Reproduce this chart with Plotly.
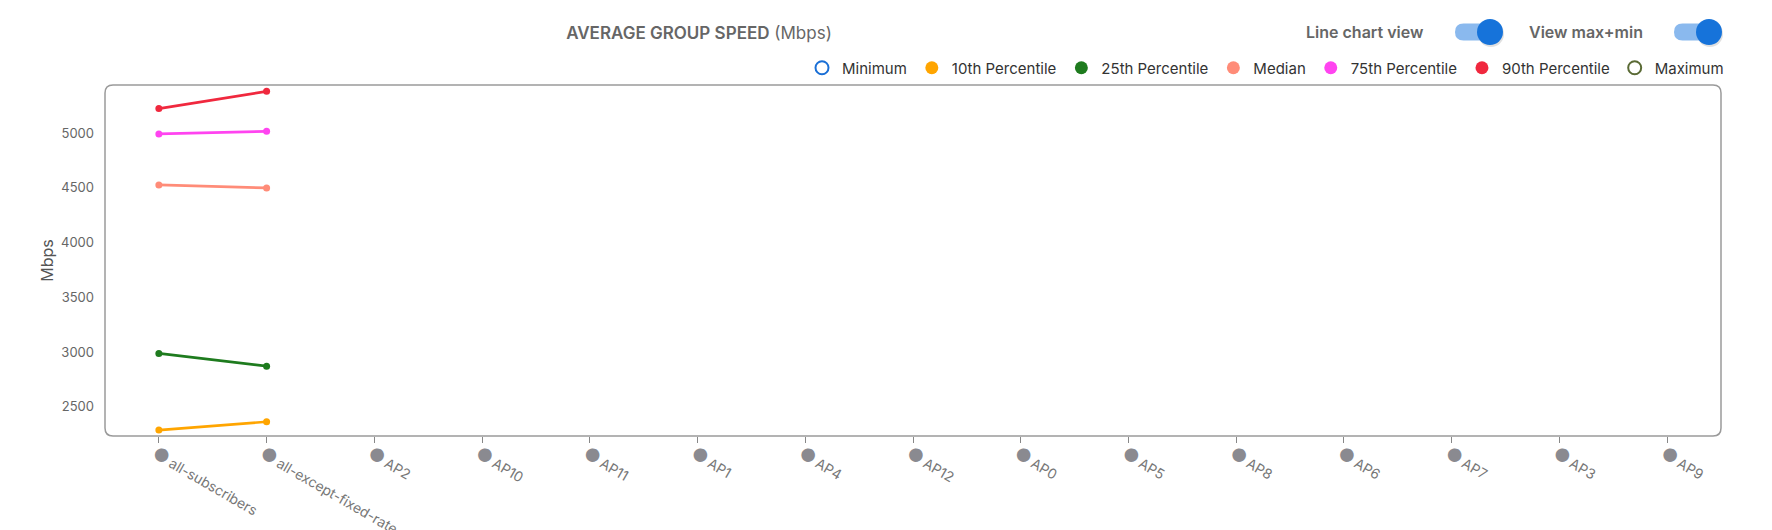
import plotly.graph_objects as go

categories = ["all-subscribers", "all-except-fixed-rate", "AP2", "AP10", "AP11", "AP1", "AP4",
              "AP12", "AP0", "AP5", "AP8", "AP6", "AP7", "AP3", "AP9"]

minimum = [None, None]
p10 = [2287, 2363]
p25 = [2987, 2871]
median = [4526, 4498]
p75 = [4991, 5015]
p90 = [5223, 5380]
maximum = [None, None]

y_ticks = [2500, 3000, 3500, 4000, 4500, 5000]

series = [
    ("Minimum", minimum, "#1a6fd6", True),
    ("10th Percentile", p10, "#ffa500", False),
    ("25th Percentile", p25, "#1e7b1e", False),
    ("Median", median, "#ff8c78", False),
    ("75th Percentile", p75, "#ff44f0", False),
    ("90th Percentile", p90, "#f0283e", False),
    ("Maximum", maximum, "#5a6a35", True),
]

W, H = 1772, 530
L, R, T, B = 105, 51, 85, 94
PW, PH = W - L - R, H - T - B

def px(x):
    return (x - L) / PW

def py(y):
    return (H - B - y) / PH

fig = go.Figure()
for name, vals, color, hollow in series:
    fig.add_trace(go.Scatter(
        x=categories[:len(vals)], y=vals, name=name, mode="lines+markers",
        legendgroup=name, showlegend=False,
        line=dict(color=color, width=2.7),
        marker=dict(size=7, color="white" if hollow else color,
                    line=dict(color=color, width=2 if hollow else 0),
                    symbol="circle"),
    ))
# legend entries (circle symbols only)
for name, vals, color, hollow in series:
    fig.add_trace(go.Scatter(
        x=[categories[0]], y=[None], name=name, mode="markers",
        legendgroup=name, showlegend=True, hoverinfo="skip",
        marker=dict(size=13, color="white" if hollow else color,
                    line=dict(color=color, width=2 if hollow else 0),
                    symbol="circle"),
    ))

ticktext = ["<span style='color:#8a8a90;font-size:18px'>●</span>\u2009" + c for c in categories]

# rounded plot frame
r = 8
rx, ry = r / PW, r / PH
frame = (f"M {rx},0 L {1-rx},0 Q 1,0 1,{ry} L 1,{1-ry} Q 1,1 {1-rx},1 "
         f"L {rx},1 Q 0,1 0,{1-ry} L 0,{ry} Q 0,0 {rx},0 Z")
shapes = [dict(type="path", path=frame, xref="paper", yref="paper",
               line=dict(color="#9a9a9a", width=1.5), layer="above")]

# toggle switches (UI decoration)
def toggle(x0, x1, kx, cy):
    th = 17
    tr = th / 2
    path = (f"M {px(x0+tr)},{py(cy-tr)} L {px(x1-tr)},{py(cy-tr)} "
            f"Q {px(x1)},{py(cy-tr)} {px(x1)},{py(cy)} Q {px(x1)},{py(cy+tr)} {px(x1-tr)},{py(cy+tr)} "
            f"L {px(x0+tr)},{py(cy+tr)} Q {px(x0)},{py(cy+tr)} {px(x0)},{py(cy)} "
            f"Q {px(x0)},{py(cy-tr)} {px(x0+tr)},{py(cy-tr)} Z")
    kr = 13
    return [
        dict(type="path", path=path, xref="paper", yref="paper",
             fillcolor="#8ab9ee", line=dict(width=0)),
        dict(type="circle", xref="paper", yref="paper",
             x0=px(kx - kr + 1), x1=px(kx + kr + 1), y0=py(cy + kr + 2), y1=py(cy - kr + 2),
             fillcolor="rgba(0,0,0,0.12)", line=dict(width=0)),
        dict(type="circle", xref="paper", yref="paper",
             x0=px(kx - kr), x1=px(kx + kr), y0=py(cy + kr), y1=py(cy - kr),
             fillcolor="#1673da", line=dict(width=0)),
    ]

shapes += toggle(1455, 1498, 1490, 32)
shapes += toggle(1674, 1714, 1709, 32)

annotations = [
    dict(text="Line chart view", x=px(1426), y=py(32), xref="paper", yref="paper",
         xanchor="right", yanchor="middle", showarrow=False,
         font=dict(family="Inter", size=16, color="#666666", weight=600)),
    dict(text="View max+min", x=px(1645), y=py(32), xref="paper", yref="paper",
         xanchor="right", yanchor="middle", showarrow=False,
         font=dict(family="Inter", size=16, color="#666666", weight=600)),
]

fig.update_layout(
    width=W, height=H,
    margin=dict(l=L, r=R, t=T, b=B, autoexpand=False),
    paper_bgcolor="white", plot_bgcolor="white",
    font=dict(family="Inter", color="#666666"),
    title=dict(text="<span style='font-weight:600'>AVERAGE GROUP SPEED</span> (Mbps)",
               x=699 / W, y=1 - 33 / H, xref="container", yref="container",
               xanchor="center", yanchor="middle",
               font=dict(family="Inter", size=17, color="#666666")),
    showlegend=True,
    legend=dict(orientation="h", x=px(1729), y=py(68), xanchor="right", yanchor="middle",
                font=dict(family="Inter", size=15, color="#333333"),
                itemwidth=30, tracegroupgap=0, bgcolor="rgba(0,0,0,0)",
                itemclick=False, itemdoubleclick=False),
    xaxis=dict(type="category", categoryorder="array", categoryarray=categories,
               range=[-0.5, len(categories) - 0.5], tickmode="array",
               tickvals=categories, ticktext=ticktext,
               tickangle=30, ticks="outside", ticklen=6, tickcolor="#888888",
               tickfont=dict(family="Inter", size=14, color="#777777"),
               ticklabelshift=-4, ticklabelstandoff=-2,
               showgrid=False, zeroline=False, showline=False, automargin=False),
    yaxis=dict(range=[2233, 5438], tickvals=y_ticks,
               showgrid=False, zeroline=False, showline=False, ticks="",
               tickfont=dict(family="Inter", size=13, color="#666666"),
               ticklabelstandoff=10,
               title=dict(text="Mbps", standoff=3,
                          font=dict(family="Inter", size=16, color="#555555")),
               automargin=False),
    shapes=shapes, annotations=annotations,
)

fig.write_html("out.html", config={"displayModeBar": False},
               post_script="document.body.style.margin='0';document.body.style.overflow='hidden';")
